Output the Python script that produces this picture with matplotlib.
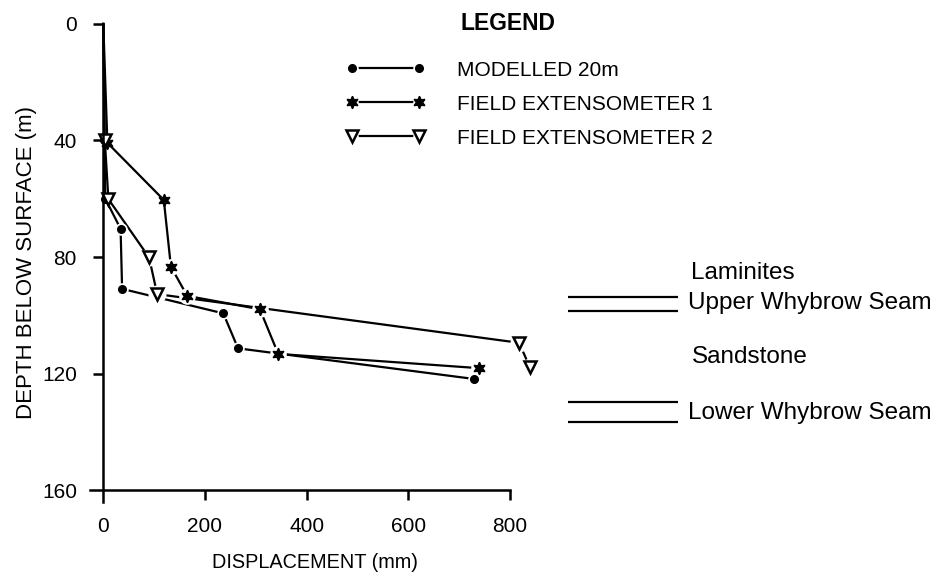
import matplotlib
matplotlib.use("Agg")
import matplotlib.pyplot as plt
from matplotlib.lines import Line2D
from matplotlib.legend_handler import HandlerTuple

plt.rcParams["font.family"] = ["Liberation Sans", "DejaVu Sans"]

# displacement (mm) and depth below surface (m)
modelled_disp = [0, 2, 4, 34, 37, 236, 265, 729]
modelled_depth = [0, 40, 60, 70.3, 90.9, 99.3, 111.3, 121.8]

ext1_disp = [0, 8, 119, 133, 165, 308, 344, 739]
ext1_depth = [0, 40.8, 60.4, 83.3, 93.3, 97.9, 113.2, 118.1]

ext2_disp = [0, 3, 10, 90, 106, 818, 839]
ext2_depth = [0, 40, 60.1, 80.1, 92.7, 109.4, 117.8]

series_labels = ["MODELLED 20m", "FIELD EXTENSOMETER 1", "FIELD EXTENSOMETER 2"]

x_ticks = [0, 200, 400, 600, 800]
y_ticks = [0, 40, 80, 120, 160]

# strata on the right-hand side
seam_depths = [93.6, 98.5, 129.6, 136.5]
seam_span = (915, 1131)
strata_labels = ["Laminites", "Upper Whybrow Seam", "Sandstone", "Lower Whybrow Seam"]
strata_x = [1155, 1151, 1157, 1151]
strata_depths = [85.3, 95.8, 114.2, 133.6]

W, H = 946, 577
fig = plt.figure(figsize=(W / 100, H / 100), dpi=100)
fig.patch.set_facecolor("white")

# 0 mm at x=103.3 px (0.5084 px/mm), 0 m at y=23.9 px (2.915 px/m)
x0, x1 = -30, 1650
y0, y1 = 166, -3
px_l, px_r = 103.3 + 0.5084 * x0, 103.3 + 0.5084 * x1
px_t, px_b = 23.9 + 2.915 * y1, 23.9 + 2.915 * y0
ax = fig.add_axes([px_l / W, 1 - px_b / H, (px_r - px_l) / W, (px_b - px_t) / H])
ax.set_xlim(x0, x1)
ax.set_ylim(y0, y1)

styles = [
    dict(marker="o", ms=5.5, mfc="black", mec="black", mew=1.0),
    dict(marker=(6, 1, 0), ms=9, mfc="black", mec="black", mew=1.0),
    dict(marker="v", ms=8.5, mfc="white", mec="black", mew=1.8),
]
halo = [9, 12, 13]

for (xs, ys), st, hs in zip(
    [(modelled_disp, modelled_depth), (ext1_disp, ext1_depth), (ext2_disp, ext2_depth)],
    styles, halo,
):
    ax.plot(xs, ys, color="black", lw=1.6, zorder=2)
    ax.plot(xs[3:], ys[3:], ls="none", marker="o", ms=hs, mfc="white", mec="none", zorder=3)
    ax.plot(xs[1:], ys[1:], ls="none", zorder=4, **st)

# axes styling
for side in ["top", "right"]:
    ax.spines[side].set_visible(False)
ax.spines["left"].set_position(("data", 0))
ax.spines["left"].set_bounds(0, 164)
ax.spines["bottom"].set_position(("data", 160))
ax.spines["bottom"].set_bounds(-26, 800)
for side in ["left", "bottom"]:
    ax.spines[side].set_linewidth(1.8)
    ax.spines[side].set_zorder(5)

ax.set_xticks(x_ticks)
ax.set_yticks(y_ticks)
ax.tick_params(axis="both", direction="out", length=7.5, width=1.8, pad=11.5, labelsize=15)
ax.xaxis.get_major_ticks()[0].tick1line.set_visible(False)
ax.yaxis.get_major_ticks()[-1].tick1line.set_visible(False)

fig.text(315 / W, 1 - 562 / H, "DISPLACEMENT (mm)", ha="center", va="center", fontsize=14.3)
fig.text(27 / W, 1 - 263 / H, "DEPTH BELOW SURFACE (m)", ha="center", va="center",
         rotation=90, fontsize=16)

# legend
fig.text(460 / W, 1 - 23 / H, "LEGEND", ha="left", va="center", fontsize=16.5, fontweight="bold")
handles = []
for st in styles:
    line = Line2D([], [], color="black", lw=1.6)
    gap = Line2D([], [], ls="none", marker="o", ms=9, mfc="white", mec="none")
    mark = Line2D([], [], ls="none", **st)
    handles.append((line, gap, mark))
ax.legend(handles, series_labels, handler_map={tuple: HandlerTuple(ndivide=1, pad=0)},
          numpoints=2, loc="upper left", bbox_to_anchor=(346 / W, 1 - 60.5 / H),
          bbox_transform=fig.transFigure, frameon=False, fontsize=15,
          handlelength=3.82, handletextpad=1.52, labelspacing=0.72, borderpad=0, borderaxespad=0)

# strata annotation
ax.hlines(seam_depths, *seam_span, color="black", lw=1.6)
for label, sx, d in zip(strata_labels, strata_x, strata_depths):
    ax.text(sx, d, label, ha="left", va="center", fontsize=17.5)

fig.savefig("out.png", dpi=100)
